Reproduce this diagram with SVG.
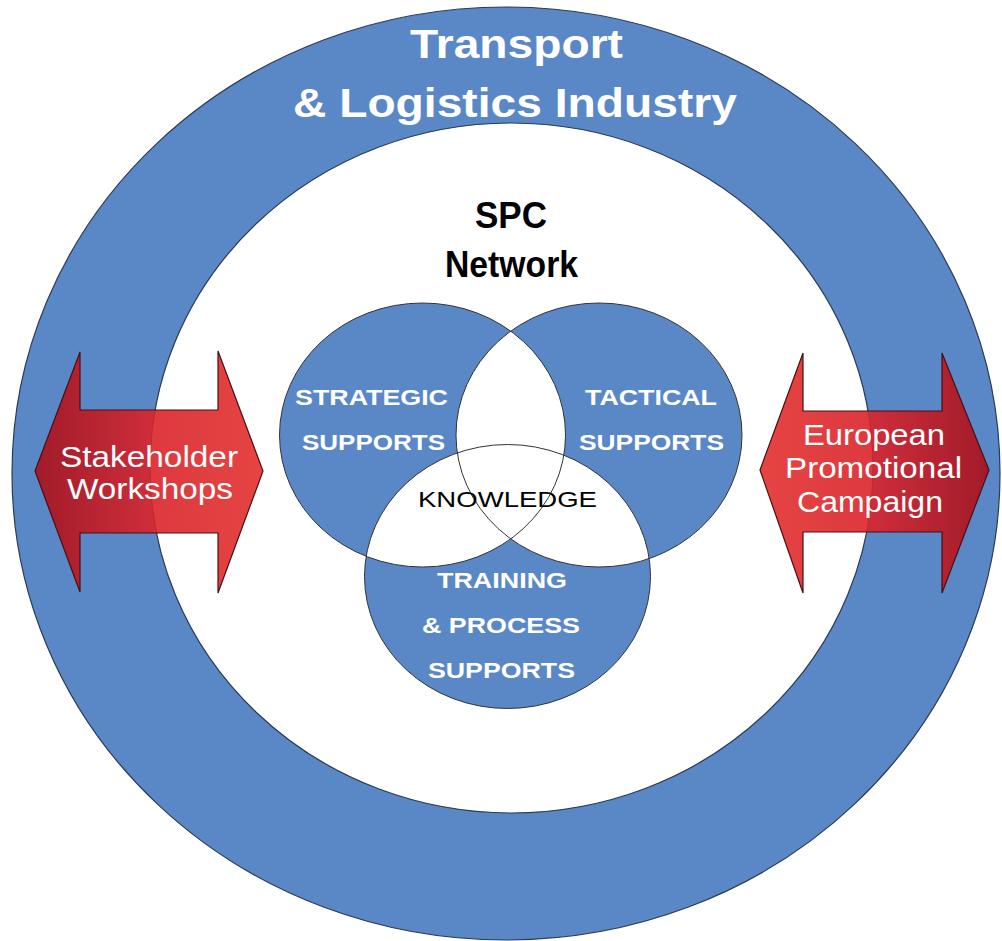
<svg xmlns="http://www.w3.org/2000/svg" width="1002" height="941" viewBox="0 0 1002 941">
  <defs>
    <style>
      .blue { fill: #5a88c7; }
      .ring-line { fill: none; stroke: #2b3a55; stroke-width: 1.2; }
      .venn-line { fill: none; stroke: #333; stroke-width: 1; }
      .arrow { stroke: #4a0f12; stroke-width: 1.2; fill-opacity: 0.9; }
      .title { font-family: "Liberation Sans", Arial, sans-serif; font-weight: bold; font-size: 40px; fill: #ffffff; }
      .spc { font-family: "Liberation Sans", Arial, sans-serif; font-weight: bold; font-size: 36px; fill: #000000; }
      .vl { font-family: "Liberation Sans", Arial, sans-serif; font-weight: bold; font-size: 22px; fill: #ffffff; }
      .kn { font-family: "Liberation Sans", Arial, sans-serif; font-size: 22px; fill: #000000; }
      .al { font-family: "Liberation Sans", Arial, sans-serif; font-size: 30px; fill: #ffffff; }
    </style>
    <linearGradient id="redL" x1="0" y1="0" x2="1" y2="0">
      <stop offset="0" stop-color="#a90f18"/>
      <stop offset="0.5" stop-color="#d9232a"/>
      <stop offset="1" stop-color="#e3302e"/>
    </linearGradient>
    <linearGradient id="redR" x1="0" y1="0" x2="1" y2="0">
      <stop offset="0" stop-color="#e3302e"/>
      <stop offset="0.5" stop-color="#d9232a"/>
      <stop offset="1" stop-color="#a90f18"/>
    </linearGradient>
    <ellipse id="eL" cx="422.5" cy="435" rx="143" ry="132"/>
    <ellipse id="eR" cx="599" cy="435" rx="143" ry="132"/>
    <ellipse id="eB" cx="507.5" cy="576.5" rx="143" ry="132"/>
    <clipPath id="clipL"><use href="#eL"/></clipPath>
    <clipPath id="clipR"><use href="#eR"/></clipPath>
  </defs>

  <rect width="1002" height="941" fill="#ffffff"/>

  <g id="industry-ring">
    <path class="blue" fill-rule="evenodd" d="M12,473.5 A494,466.5 0 1,0 1000,473.5 A494,466.5 0 1,0 12,473.5 Z M150,468 A361.5,345 0 1,0 873,468 A361.5,345 0 1,0 150,468 Z"/>
    <ellipse class="ring-line" cx="506" cy="473.5" rx="494" ry="466.5"/>
    <ellipse class="ring-line" cx="511.5" cy="468" rx="361.5" ry="345"/>
    <text class="title" x="410" y="58" textLength="213" lengthAdjust="spacingAndGlyphs">Transport</text>
    <text class="title" x="293" y="117" textLength="444" lengthAdjust="spacingAndGlyphs">&amp; Logistics Industry</text>
  </g>

  <g id="spc-network">
    <text class="spc" x="475" y="228" textLength="72" lengthAdjust="spacingAndGlyphs">SPC</text>
    <text class="spc" x="445" y="277" textLength="133" lengthAdjust="spacingAndGlyphs">Network</text>
  </g>

  <g id="venn">
    <g id="venn-fill">
      <use href="#eL" class="blue"/>
      <use href="#eR" class="blue"/>
      <use href="#eB" class="blue"/>
      <use href="#eR" fill="#ffffff" clip-path="url(#clipL)"/>
      <use href="#eB" fill="#ffffff" clip-path="url(#clipL)"/>
      <use href="#eB" fill="#ffffff" clip-path="url(#clipR)"/>
      <use href="#eL" class="venn-line"/>
      <use href="#eR" class="venn-line"/>
      <use href="#eB" class="venn-line"/>
    </g>
    <g id="strategic">
      <text class="vl" x="295" y="405" textLength="153" lengthAdjust="spacingAndGlyphs">STRATEGIC</text>
      <text class="vl" x="302" y="450" textLength="143" lengthAdjust="spacingAndGlyphs">SUPPORTS</text>
    </g>
    <g id="tactical">
      <text class="vl" x="585" y="405" textLength="132" lengthAdjust="spacingAndGlyphs">TACTICAL</text>
      <text class="vl" x="579" y="450" textLength="145" lengthAdjust="spacingAndGlyphs">SUPPORTS</text>
    </g>
    <g id="training">
      <text class="vl" x="437" y="588" textLength="130" lengthAdjust="spacingAndGlyphs">TRAINING</text>
      <text class="vl" x="422" y="633" textLength="158" lengthAdjust="spacingAndGlyphs">&amp; PROCESS</text>
      <text class="vl" x="428" y="678" textLength="147" lengthAdjust="spacingAndGlyphs">SUPPORTS</text>
    </g>
    <g id="knowledge">
      <text class="kn" x="418" y="507" textLength="179" lengthAdjust="spacingAndGlyphs">KNOWLEDGE</text>
    </g>
  </g>

  <g id="stakeholder-workshops">
    <path class="arrow" fill="url(#redL)" d="M35,471 L80,352 L80,410 L218,410 L218,351 L263,471 L218,593 L218,533 L80,533 L80,592 Z"/>
    <text class="al" x="60" y="467" textLength="178" lengthAdjust="spacingAndGlyphs">Stakeholder</text>
    <text class="al" x="67" y="499" textLength="166" lengthAdjust="spacingAndGlyphs">Workshops</text>
  </g>

  <g id="european-campaign">
    <path class="arrow" fill="url(#redR)" d="M760,470 L803,353 L803,411 L942,411 L942,353 L989,470 L942,593 L942,532 L803,532 L803,593 Z"/>
    <text class="al" x="803" y="445" textLength="142" lengthAdjust="spacingAndGlyphs">European</text>
    <text class="al" x="785" y="478" textLength="177" lengthAdjust="spacingAndGlyphs">Promotional</text>
    <text class="al" x="797" y="512" textLength="146" lengthAdjust="spacingAndGlyphs">Campaign</text>
  </g>

  <g id="connectors"/>
</svg>
